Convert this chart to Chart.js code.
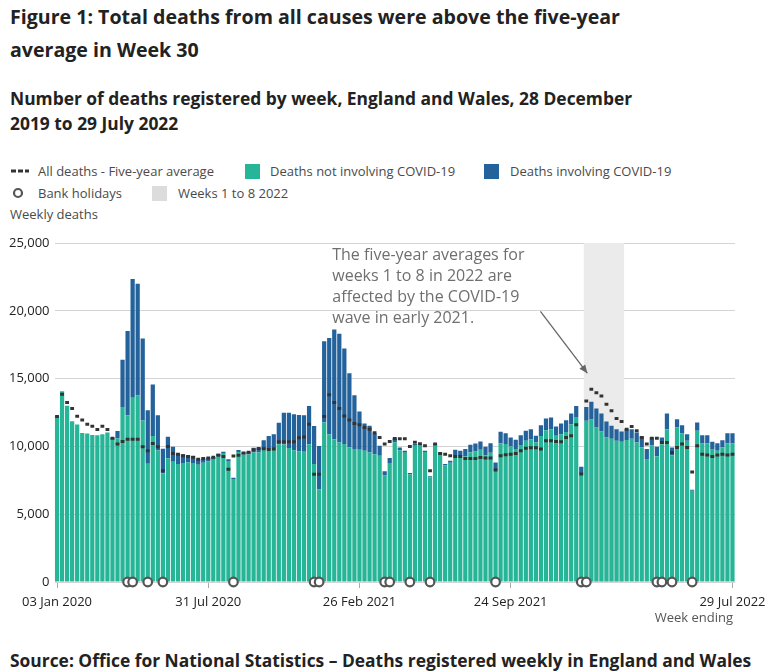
<!DOCTYPE html>
<html><head><meta charset="utf-8">
<script src="https://cdn.jsdelivr.net/npm/chart.js@4.4.0/dist/chart.umd.min.js"></script>
<style>
body{margin:0;background:#fff;font-family:'Open Sans',sans-serif;color:#222;}
#wrap{position:relative;width:768px;height:672px;overflow:hidden;background:#fff;}
.abs{position:absolute;white-space:nowrap;}
.title{left:10px;top:0px;font-size:19.6px;line-height:33px;font-weight:700;color:#222;}
.sub{left:10px;top:86px;font-size:17.4px;line-height:25px;font-weight:700;color:#222;}
.leg{font-size:13px;color:#4a4a4a;line-height:18px;}
.sw{position:absolute;}
#cv{position:absolute;left:0;top:223px;}
.src{left:10px;top:648px;font-size:17.4px;line-height:24px;font-weight:700;color:#222;}
</style></head><body>
<div id="wrap">
<div class="abs title">Figure 1: Total deaths from all causes were above the five-year<br>average in Week 30</div>
<div class="abs sub">Number of deaths registered by week, England and Wales, 28 December<br>2019 to 29 July 2022</div>

<svg class="sw" style="left:11px;top:168px" width="18" height="6"><line x1="0" y1="3" x2="18" y2="3" stroke="#333" stroke-width="3" stroke-dasharray="5,2"/></svg>
<div class="abs leg" style="left:38px;top:162px">All deaths - Five-year average</div>
<div class="sw" style="left:245px;top:164px;width:15px;height:15px;background:#27b597"></div>
<div class="abs leg" style="left:270px;top:162px">Deaths not involving COVID-19</div>
<div class="sw" style="left:484px;top:164px;width:15px;height:15px;background:#24629c"></div>
<div class="abs leg" style="left:510px;top:162px">Deaths involving COVID-19</div>

<svg class="sw" style="left:12px;top:187px" width="12" height="12"><circle cx="6" cy="6" r="4" fill="#fff" stroke="#555" stroke-width="2.2"/></svg>
<div class="abs leg" style="left:38px;top:184px">Bank holidays</div>
<div class="sw" style="left:152px;top:186px;width:15px;height:15px;background:#dcdcdc"></div>
<div class="abs leg" style="left:178px;top:184px">Weeks 1 to 8 2022</div>
<div class="abs leg" style="left:10px;top:205px">Weekly deaths</div>

<canvas id="cv" width="768" height="410"></canvas>
<div class="abs leg" style="right:35px;top:608px;color:#555">Week ending</div>
<div class="abs src">Source: Office for National Statistics – Deaths registered weekly in England and Wales</div>
</div>
<script>
// Deaths not involving COVID-19 (week ending 03 Jan 2020 ... 29 Jul 2022)
const nonCovid = [
12254,14058,12990,11856,11612,10986,10944,10841,10816,10895,
11014,10542,10602,12912,12303,13593,13760,11918,8727,10763,
9699,8002,9121,8862,8700,8770,8840,8770,8650,8800,
8890,9020,9280,9460,8920,7590,9590,9410,9410,9550,
9550,9790,9770,9890,10150,10140,9890,9720,9620,9600,
10150,8700,6830,11760,10900,10535,10290,10170,9920,9800,
9750,9680,9555,9430,9310,7860,8780,10310,9720,9530,
7940,10050,10070,9580,7710,10070,9455,8600,8790,9310,
9300,9260,9560,9620,9750,9330,9540,8260,10240,10175,
10000,9800,10095,10415,10535,10290,10770,11190,11270,10780,
10905,11070,11635,12175,7960,11900,12000,11390,11120,10680,
10565,10420,10350,10470,10570,10290,9930,9065,10060,9270,
10160,11270,9320,11400,10960,10410,6730,11150,10220,10220,
9800,9680,9920,10240,10215];
// Deaths involving COVID-19
const covid = [
0,0,0,0,0,0,0,0,0,0,
5,103,539,3475,6213,8758,8237,6035,3930,3810,
2589,1822,1588,1114,780,650,500,520,400,300,
250,200,180,150,130,100,140,150,200,350,
350,660,1000,1000,1600,2350,2600,2650,2700,2700,
2830,2800,3200,6000,7100,8085,8010,7050,5470,3970,
2820,2010,1960,1520,735,300,360,300,200,150,
100,120,100,100,80,100,100,100,150,440,
380,540,560,600,610,640,700,560,835,800,
660,690,735,735,735,490,790,860,860,690,
785,860,785,810,540,1000,1300,1400,1300,1150,
950,850,750,800,700,735,800,735,600,700,
500,1150,600,600,600,490,80,610,610,610,
540,560,540,735,760];
// All deaths - five-year average
const fiveYearAvg = [
12200,13840,13230,12790,12225,11956,11640,11490,11245,11490,
11245,10600,10170,10360,10535,10535,10535,9970,9680,10220,
9970,8200,10000,9480,9430,9310,9250,9200,9050,9100,
9150,9200,9340,9250,8310,9290,9340,9520,9560,9750,
9850,9820,9770,9800,10350,10350,10350,10350,10640,10700,
11630,7940,7940,12200,13800,13230,12790,12250,11950,11690,
11590,11400,11270,11000,10660,10170,10360,10590,10560,10560,
10000,10300,10200,10045,8200,10170,9480,9430,9310,9260,
9260,9110,9110,9110,9190,9140,9140,8260,9310,9380,
9430,9480,9680,9870,9900,9900,9800,10410,10410,10360,
10340,10660,10780,11590,7960,13350,14210,13965,13720,13110,
12620,12050,11830,11270,11465,11150,10660,10170,10600,10610,
10290,10290,9555,9920,10170,9920,8110,10045,9430,9360,
9260,9360,9430,9360,9430];
const bankHolidayIdx = [14,15,18,21,35,51,52,65,66,70,74,87,104,105,119,120,122,126];
const highlightWeeks = [105,112]; // Weeks 1 to 8 2022
const tickLabels = ['03 Jan 2020','31 Jul 2020','26 Feb 2021','24 Sep 2021','29 Jul 2022'];
const yTicks = [0,5000,10000,15000,20000,25000];
const noteLines = ['The five-year averages for','weeks 1 to 8 in 2022 are','affected by the COVID-19','wave in early 2021.'];

const months = ['Jan','Feb','Mar','Apr','May','Jun','Jul','Aug','Sep','Oct','Nov','Dec'];
const start = Date.UTC(2020,0,3);
const categories = nonCovid.map((_, i) => {
  const d = new Date(start + i*7*864e5);
  return String(d.getUTCDate()).padStart(2,'0')+' '+months[d.getUTCMonth()]+' '+d.getUTCFullYear();
});
const bankHolidays = categories.map((_, i) => bankHolidayIdx.includes(i) ? 0 : null);

Chart.defaults.font.family = "'Open Sans', sans-serif";

const bandPlugin = {
  id: 'band',
  beforeDatasetsDraw(chart) {
    const x = chart.scales.x, a = chart.chartArea, c = chart.ctx;
    const half = (x.getPixelForValue(1) - x.getPixelForValue(0)) / 2;
    const l = x.getPixelForValue(highlightWeeks[0]) - half;
    const r = x.getPixelForValue(highlightWeeks[1]) + half;
    c.save(); c.fillStyle = '#ebebeb'; c.fillRect(l, a.top, r - l, a.bottom - a.top); c.restore();
  }
};
const notePlugin = {
  id: 'note',
  afterDatasetsDraw(chart) {
    const x = chart.scales.x, y = chart.scales.y, c = chart.ctx;
    c.save();
    c.font = "16px 'Open Sans', sans-serif";
    c.fillStyle = '#6f6f6f'; c.textBaseline = 'middle'; c.textAlign = 'left';
    const tx = x.getPixelForValue(54.6);
    noteLines.forEach((t, k) => c.fillText(t, tx, y.getPixelForValue(24100) + k*21));
    const x1 = x.getPixelForValue(95.9), y1 = y.getPixelForValue(19950);
    const x2 = x.getPixelForValue(105.2), y2 = y.getPixelForValue(15400);
    c.strokeStyle = '#666'; c.fillStyle = '#666'; c.lineWidth = 1.3;
    c.beginPath(); c.moveTo(x1, y1); c.lineTo(x2, y2); c.stroke();
    const ang = Math.atan2(y2 - y1, x2 - x1), L = 9, W = 0.42;
    c.beginPath(); c.moveTo(x2, y2);
    c.lineTo(x2 - L*Math.cos(ang - W), y2 - L*Math.sin(ang - W));
    c.lineTo(x2 - L*Math.cos(ang + W), y2 - L*Math.sin(ang + W));
    c.closePath(); c.fill();
    c.restore();
  }
};

new Chart(document.getElementById('cv'), {
  data: {
    labels: categories,
    datasets: [
      { type: 'line', label: 'Bank holidays', data: bankHolidays, stack: 'bh', order: 0,
        showLine: false, pointStyle: 'circle', pointRadius: 4.3, pointBorderWidth: 2.2,
        pointBackgroundColor: '#fff', pointBorderColor: '#555', clip: false },
      { type: 'line', label: 'All deaths - Five-year average', data: fiveYearAvg, stack: 'avg', order: 1,
        showLine: false, pointStyle: 'line', pointRadius: 1.9, pointBorderWidth: 3,
        pointBorderColor: '#333', pointBackgroundColor: '#333' },
      { type: 'bar', label: 'Deaths not involving COVID-19', data: nonCovid, stack: 'deaths', order: 2,
        backgroundColor: '#27b597', barPercentage: 0.84, categoryPercentage: 1 },
      { type: 'bar', label: 'Deaths involving COVID-19', data: covid, stack: 'deaths', order: 2,
        backgroundColor: '#24629c', barPercentage: 0.84, categoryPercentage: 1 }
    ]
  },
  options: {
    responsive: false, animation: false, devicePixelRatio: 1,
    layout: { padding: { top: 20, right: 33, left: 0, bottom: 0 } },
    plugins: { legend: { display: false }, tooltip: { enabled: false } },
    scales: {
      x: {
        stacked: true,
        border: { display: false },
        grid: { display: true, offset: false, drawOnChartArea: false, tickLength: 6,
          color: ctx => tickLabels.includes(categories[ctx.index]) ? '#aaa' : 'rgba(0,0,0,0)' },
        ticks: { autoSkip: false, maxRotation: 0, minRotation: 0, padding: 6, color: '#222',
          font: { size: 13 },
          callback: (v, i) => tickLabels.includes(categories[i]) ? categories[i] : '' },
        afterFit: s => { s.height = 51; s.paddingLeft = 0; s.paddingRight = 0; }
      },
      y: {
        stacked: true, min: 0, max: 25000,
        border: { display: false },
        grid: { color: '#d4d4d4', drawTicks: false },
        afterBuildTicks: s => { s.ticks = yTicks.map(v => ({ value: v })); },
        ticks: { padding: 5, color: '#222', font: { size: 13 },
          callback: v => v.toLocaleString('en-GB') },
        afterFit: s => { s.width = 54.5; }
      }
    }
  },
  plugins: [bandPlugin, notePlugin]
});
</script>
</body></html>
